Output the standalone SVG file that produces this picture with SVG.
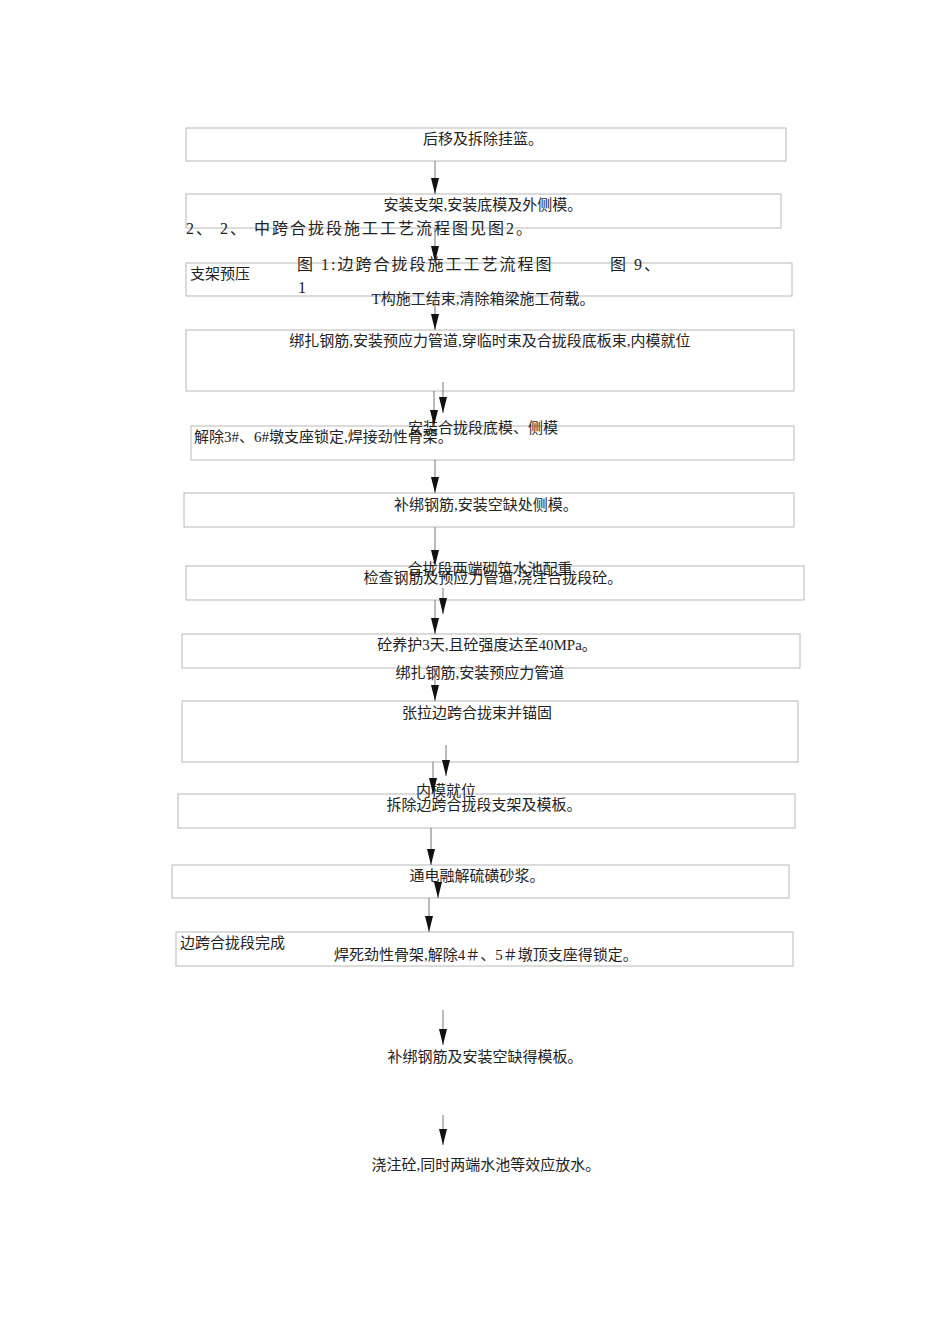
<svg xmlns="http://www.w3.org/2000/svg" width="950" height="1344" viewBox="0 0 950 1344">
<style>
rect{fill:none;stroke:#b8b8b8;stroke-width:1}
text{font-family:"Liberation Serif","Noto Sans CJK SC",serif;font-size:15px;fill:#222}
.c{text-anchor:middle}
.h{font-size:16px;letter-spacing:2px}
line{stroke:#777;stroke-width:1;marker-end:url(#a)}
</style>
<defs><marker id="a" markerWidth="16" markerHeight="10" refX="16" refY="4" orient="auto" markerUnits="userSpaceOnUse"><path d="M0,0 L16,4 L0,8 Z" fill="#111"/></marker></defs>
<rect width="950" height="1344" style="fill:#fff;stroke:none"/>
<g id="n1"><rect x="186" y="128" width="600" height="33"/><text class="c" x="483" y="144">后移及拆除挂篮。</text></g>
<g id="n2"><rect x="186" y="194" width="595" height="34"/><text class="c" x="483" y="210">安装支架,安装底模及外侧模。</text></g>
<g id="n3"><rect x="186" y="263" width="606" height="33"/><text x="190" y="279">支架预压</text></g>
<g id="n4"><rect x="186" y="330" width="608" height="61"/><text class="c" x="490" y="346">绑扎钢筋,安装预应力管道,穿临时束及合拢段底板束,内模就位</text></g>
<g id="n5"><rect x="191" y="426" width="603" height="34"/><text x="194" y="442">解除3#、6#墩支座锁定,焊接劲性骨架。</text></g>
<g id="n6"><rect x="184" y="493" width="610" height="34"/><text class="c" x="486" y="510">补绑钢筋,安装空缺处侧模。</text></g>
<g id="n7"><rect x="186" y="566" width="618" height="34"/><text class="c" x="493" y="583">检查钢筋及预应力管道,浇注合拢段砼。</text></g>
<g id="n8"><rect x="182" y="634" width="618" height="34"/><text class="c" x="487" y="650">砼养护3天,且砼强度达至40MPa。</text></g>
<g id="n9"><rect x="182" y="701" width="616" height="61"/><text class="c" x="477" y="718">张拉边跨合拢束并锚固</text></g>
<g id="n10"><rect x="178" y="794" width="617" height="34"/><text class="c" x="484" y="810">拆除边跨合拢段支架及模板。</text></g>
<g id="n11"><rect x="172" y="865" width="617" height="33"/><text class="c" x="477" y="881">通电融解硫磺砂浆。</text></g>
<g id="n12"><rect x="176" y="932" width="617" height="34"/><text x="180" y="948">边跨合拢段完成</text><text class="c" x="486" y="960">焊死劲性骨架,解除4＃、5＃墩顶支座得锁定。</text></g>
<g id="labels">
<text class="h" x="186" y="234">2、 2、 中跨合拢段施工工艺流程图见图2。</text>
<text class="h" x="297" y="270">图 1:边跨合拢段施工工艺流程图</text>
<text class="h" x="610" y="270">图 9、</text>
<text class="h" x="298" y="293">1</text>
<text class="c" x="483" y="304">T构施工结束,清除箱梁施工荷载。</text>
<text class="c" x="483" y="433">安装合拢段底模、侧模</text>
<text class="c" x="490" y="574">合拢段两端砌筑水池配重</text>
<text class="c" x="480" y="678">绑扎钢筋,安装预应力管道</text>
<text class="c" x="446" y="796">内模就位</text>
<text class="c" x="485" y="1062">补绑钢筋及安装空缺得模板。</text>
<text class="c" x="486" y="1170">浇注砼,同时两端水池等效应放水。</text>
</g>
<g id="connectors">
<line x1="435" y1="161" x2="435" y2="194"/>
<line x1="435" y1="228" x2="435" y2="262"/>
<line x1="435" y1="296" x2="435" y2="330"/>
<line x1="434" y1="391" x2="434" y2="426"/>
<line x1="443" y1="382" x2="443" y2="413"/>
<line x1="435" y1="460" x2="435" y2="493"/>
<line x1="435" y1="527" x2="435" y2="566"/>
<line x1="443" y1="588" x2="443" y2="614"/>
<line x1="435" y1="600" x2="435" y2="634"/>
<line x1="435" y1="668" x2="435" y2="701"/>
<line x1="446" y1="745" x2="446" y2="776"/>
<line x1="433" y1="762" x2="433" y2="794"/>
<line x1="431" y1="828" x2="431" y2="865"/>
<line x1="438" y1="880" x2="438" y2="898"/>
<line x1="429" y1="898" x2="429" y2="932"/>
<line x1="443" y1="1010" x2="443" y2="1045"/>
<line x1="443" y1="1115" x2="443" y2="1145"/>
</g>
</svg>
